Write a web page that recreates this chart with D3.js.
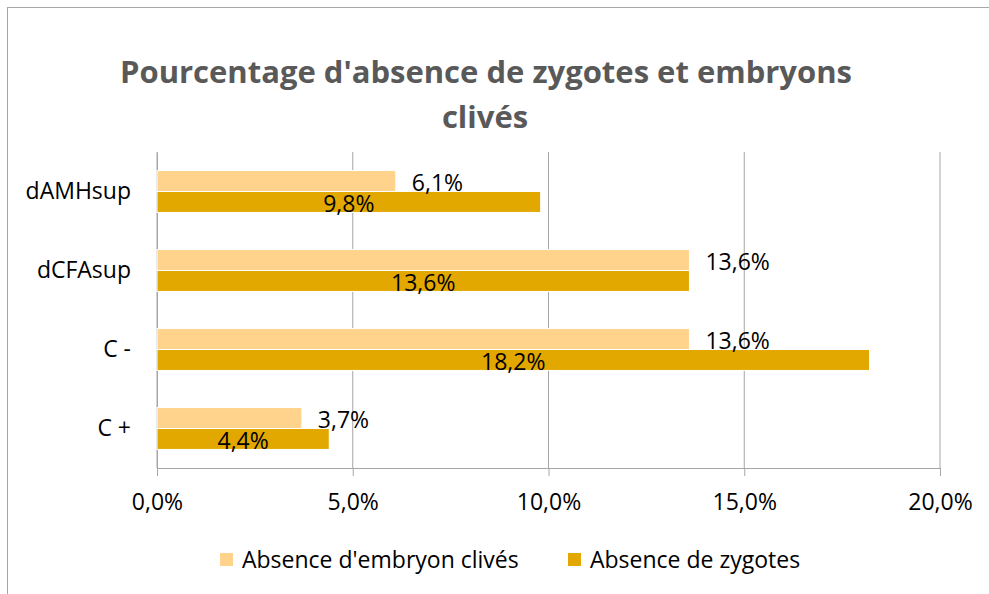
<!DOCTYPE html>
<html>
<head>
<meta charset="utf-8">
<script src="https://cdn.jsdelivr.net/npm/d3@7"></script>
<style>
  body { margin: 0; background: #fff; overflow: hidden; }
  text { font-family: "Open Sans", sans-serif; }
</style>
</head>
<body>
<div id="chart"></div>
<script>
const categories = ["dAMHsup", "dCFAsup", "C -", "C +"];
const seriesNames = ["Absence d'embryon clivés", "Absence de zygotes"];
const embryonValues = [6.1, 13.6, 13.6, 3.7];
const zygoteValues = [9.8, 13.6, 18.2, 4.4];
const xTicks = [0, 5, 10, 15, 20];
const colors = ["#FFD38B", "#E2A800"];

const W = 989, H = 594;
const margin = {top: 152, right: 49, bottom: 126, left: 157};
const fs = "23px";

const svg = d3.select("#chart").append("svg")
    .attr("width", W)
    .attr("height", H);

// outer frame (right/bottom edges fall outside the picture)
svg.append("rect")
    .attr("x", 7.5).attr("y", 7.5)
    .attr("width", 1000).attr("height", 600)
    .attr("fill", "none")
    .attr("stroke", "#A6A6A6");

// title
svg.append("text")
    .attr("x", 486).attr("y", 83)
    .attr("text-anchor", "middle")
    .style("font-size", "31px").style("font-weight", "bold")
    .attr("fill", "#595959")
    .text("Pourcentage d'absence de zygotes et embryons");
svg.append("text")
    .attr("x", 485).attr("y", 128)
    .attr("text-anchor", "middle")
    .style("font-size", "31px").style("font-weight", "bold")
    .attr("fill", "#595959")
    .text("clivés");

let x = d3.scaleLinear()
    .domain([0, 20])
    .range([margin.left, W - margin.right]);

let y = d3.scaleBand()
    .domain(categories)
    .range([margin.top, H - margin.bottom])
    .paddingInner(0.47)
    .paddingOuter(0.235);

let ySub = d3.scaleBand()
    .domain([0, 1])
    .range([0, y.bandwidth()]);

// gridlines
svg.append("g")
    .selectAll("line")
    .data(xTicks)
    .enter()
    .append("line")
    .attr("x1", d => x(d)).attr("x2", d => x(d))
    .attr("y1", margin.top).attr("y2", H - margin.bottom)
    .attr("stroke", "#A6A6A6")
    .attr("stroke-width", 1);

// x axis
let xAxis = svg.append("g")
    .attr("transform", `translate(0, ${H - margin.bottom})`)
    .call(d3.axisBottom(x).tickValues(xTicks).tickSize(8).tickPadding(18)
        .tickFormat(d => d.toFixed(1).replace(".", ",") + "%"));
xAxis.select(".domain").attr("stroke", "#A6A6A6");
xAxis.selectAll(".tick line").attr("stroke", "#A6A6A6");
xAxis.selectAll("text")
    .style("font-size", fs)
    .attr("fill", "#000");

// y axis
let yAxis = svg.append("g")
    .attr("transform", `translate(${margin.left}, 0)`)
    .call(d3.axisLeft(y).tickSize(0).tickPadding(26));
yAxis.select(".domain").attr("stroke", "#A6A6A6");
yAxis.selectAll("text")
    .style("font-size", fs)
    .attr("fill", "#000");

let rows = categories.map((c, i) => ({
    cat: c,
    vals: [embryonValues[i], zygoteValues[i]]
}));

let groups = svg.selectAll(".grp")
    .data(rows)
    .enter()
    .append("g")
    .attr("transform", d => `translate(0, ${y(d.cat)})`);

groups.selectAll("rect")
    .data(d => d.vals.map((v, j) => ({v, j})))
    .enter()
    .append("rect")
    .attr("x", x(0))
    .attr("y", d => ySub(d.j))
    .attr("width", d => x(d.v) - x(0))
    .attr("height", ySub.bandwidth())
    .attr("fill", d => colors[d.j])
    .attr("stroke", "#fff")
    .attr("stroke-width", 1);

groups.selectAll(".lbl")
    .data(d => d.vals.map((v, j) => ({v, j})))
    .enter()
    .append("text")
    .attr("x", d => d.j === 0 ? x(d.v) + 16 : (x(0) + x(d.v)) / 2)
    .attr("y", d => ySub(d.j) + ySub.bandwidth() / 2 + 2)
    .attr("dy", "0.35em")
    .attr("text-anchor", d => d.j === 0 ? "start" : "middle")
    .style("font-size", fs)
    .attr("fill", "#000")
    .text(d => d.v.toFixed(1).replace(".", ",") + "%");

// legend
let legendX = [220, 568];
let legend = svg.selectAll(".leg")
    .data(seriesNames)
    .enter()
    .append("g")
    .attr("transform", (d, i) => `translate(${legendX[i]}, 553)`);
legend.append("rect")
    .attr("width", 13).attr("height", 13)
    .attr("fill", (d, i) => colors[i]);
legend.append("text")
    .attr("x", 22).attr("y", 7)
    .attr("dy", "0.35em")
    .style("font-size", fs)
    .attr("fill", "#000")
    .text(d => d);
</script>
</body>
</html>
